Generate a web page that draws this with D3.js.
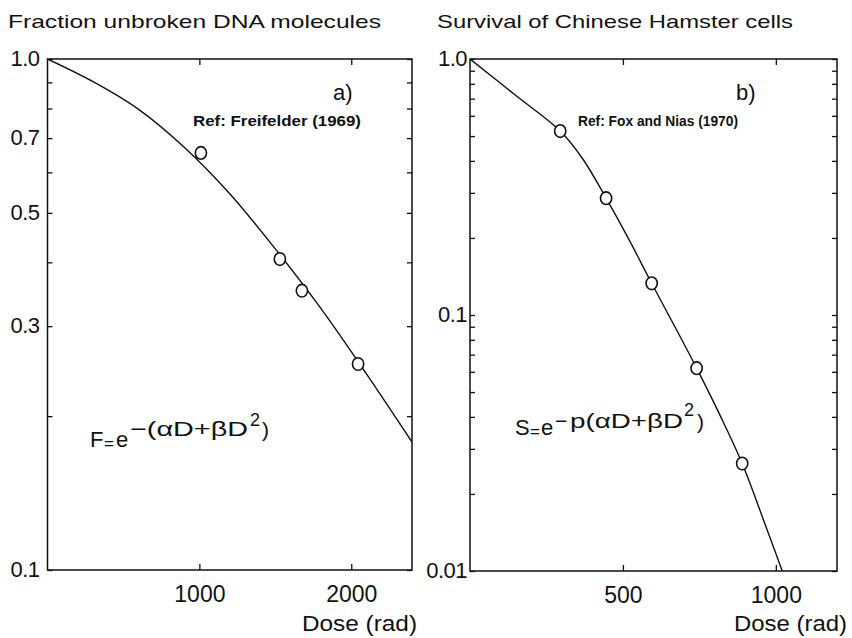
<!DOCTYPE html>
<html lang="en">
<head>
<meta charset="UTF-8">
<title>Fraction unbroken DNA / Survival of Chinese Hamster cells</title>
<script src="https://d3js.org/d3.v7.min.js"></script>
<style>
  body { margin: 0; background: #fff; }
  text { font-family: "Liberation Sans", Arial, sans-serif; fill: #111; }
</style>
</head>
<body>
<svg id="fig" width="852" height="638"></svg>
<script>
// panel a) - unbroken DNA, Freifelder (1969)
const doseA = [1010, 1530, 1675, 2045];
const fracA = [0.655, 0.406, 0.352, 0.253];
const curveDoseA = [0, 300, 600, 900, 1200, 1500, 1800, 2100, 2400];
const curveFracA = [1.0, 0.903, 0.797, 0.672, 0.545, 0.425, 0.325, 0.242, 0.178];
const yTicksA = [0.1, 0.2, 0.3, 0.4, 0.5, 0.6, 0.7, 0.8, 0.9, 1.0];
const yLabelsA = ["0.1", "0.3", "0.5", "0.7", "1.0"];
const xTicksA = [1000, 2000];

// panel b) - hamster cell survival, Fox and Nias (1970)
const doseB = [295, 445, 594, 741, 890];
const survB = [0.523, 0.286, 0.133, 0.062, 0.0263];
const curveDoseB = [0, 150, 295, 370, 445, 520, 594, 670, 741, 820, 890, 960, 1021];
const curveSurvB = [1.0, 0.72, 0.523, 0.405, 0.286, 0.197, 0.133, 0.090, 0.062, 0.040, 0.0263, 0.0158, 0.01];
const yTicksB = [0.01, 0.02, 0.03, 0.04, 0.05, 0.06, 0.07, 0.08, 0.09,
                 0.1, 0.2, 0.3, 0.4, 0.5, 0.6, 0.7, 0.8, 0.9, 1.0];
const yLabelsB = ["0.01", "0.1", "1.0"];
const xTicksB = [500, 1000];

const svg = d3.select("#fig");

function panel(p) {
  const x = d3.scaleLinear().domain(p.xDomain).range([p.left, p.right]);
  const y = d3.scaleLog().domain(p.yDomain).range([p.bottom, p.top]);
  const g = svg.append("g");

  g.append("clipPath").attr("id", p.id)
    .append("rect")
    .attr("x", p.left).attr("y", p.top)
    .attr("width", p.right - p.left).attr("height", p.bottom - p.top);

  // ticks all point inwards
  const lab = d => p.yLabels.find(s => +s === d) || "";
  g.append("g").attr("transform", `translate(${p.left},0)`)
    .call(d3.axisLeft(y).tickValues(p.yTicks).tickFormat(lab)
      .tickSize(-5).tickSizeOuter(0).tickPadding(p.yPad))
    .call(a => a.selectAll("text").attr("font-size", 22).attr("dy", "0.3em")
      .attr("letter-spacing", "-0.5"));
  g.append("g").attr("transform", `translate(${p.right},0)`)
    .call(d3.axisRight(y).tickValues(p.yTicks).tickFormat("").tickSize(-5).tickSizeOuter(0));
  g.append("g").attr("transform", `translate(0,${p.top})`)
    .call(d3.axisTop(x).tickValues(p.xTicks).tickFormat("").tickSize(-6).tickSizeOuter(0));
  g.append("g").attr("transform", `translate(0,${p.bottom})`)
    .call(d3.axisBottom(x).tickValues(p.xTicks).tickFormat(d3.format("d"))
      .tickSize(-6).tickSizeOuter(0))
    .call(a => a.selectAll("text").attr("font-size", 23).attr("dy", null).attr("y", 32));

  g.selectAll(".domain").remove();
  g.selectAll(".tick line").attr("stroke", "#111").attr("stroke-width", 1.3);
  g.selectAll(".tick text").attr("fill", "#111").style("font-family", null);

  g.append("rect")
    .attr("x", p.left).attr("y", p.top)
    .attr("width", p.right - p.left).attr("height", p.bottom - p.top)
    .attr("fill", "none").attr("stroke", "#111").attr("stroke-width", 1.5);

  const line = d3.line().x(d => x(d[0])).y(d => y(d[1])).curve(d3.curveCatmullRom);
  g.append("path")
    .datum(d3.zip(p.curveX, p.curveY))
    .attr("clip-path", `url(#${p.id})`)
    .attr("fill", "none").attr("stroke", "#111").attr("stroke-width", 1.4)
    .attr("d", line);

  g.selectAll("ellipse.pt").data(d3.zip(p.ptX, p.ptY)).join("ellipse")
    .attr("class", "pt")
    .attr("cx", d => x(d[0])).attr("cy", d => y(d[1]))
    .attr("rx", 5.6).attr("ry", 6.3)
    .attr("fill", "#fff").attr("stroke", "#111").attr("stroke-width", 1.6);

  return g;
}

panel({
  id: "clipA", left: 47.5, right: 412, top: 59, bottom: 570,
  xDomain: [0, 2400], yDomain: [0.1, 1.0], yPad: 8,
  yTicks: yTicksA, yLabels: yLabelsA, xTicks: xTicksA,
  curveX: curveDoseA, curveY: curveFracA, ptX: doseA, ptY: fracA
});
panel({
  id: "clipB", left: 470, right: 837, top: 59, bottom: 571,
  xDomain: [0, 1200], yDomain: [0.01, 1.0], yPad: 3,
  yTicks: yTicksB, yLabels: yLabelsB, xTicks: xTicksB,
  curveX: curveDoseB, curveY: curveSurvB, ptX: doseB, ptY: survB
});

// titles and annotations
function label(x, y, size, str, len, bold) {
  const t = svg.append("text").attr("x", x).attr("y", y).attr("font-size", size).text(str);
  if (len) t.attr("textLength", len).attr("lengthAdjust", "spacingAndGlyphs");
  if (bold) t.attr("font-weight", "bold");
  return t;
}
label(8, 28, 19, "Fraction  unbroken DNA molecules", 373);
label(437, 28, 19, "Survival of  Chinese Hamster cells", 356);
label(302, 631, 22, "Dose (rad)", 115);
label(734, 631, 22, "Dose (rad)", 113);
label(333, 100, 22, "a)");
label(736, 100, 22, "b)");
label(193, 126, 14, "Ref: Freifelder (1969)", 168, true);
label(578, 126, 14, "Ref:  Fox  and Nias (1970)", 160, true);

// F = e^-(aD+bD^2)
label(90, 447, 22, "F");
label(104, 449, 17, "=");
label(116, 447, 22, "e");
label(130, 436, 21, "\u2212(\u03b1D+\u03b2D", 118);
label(250, 426, 18, "2");
label(262, 437, 21, ")");

// S = e^-p(aD+bD^2)
label(515, 435, 22, "S");
label(530, 437, 17, "=");
label(541, 435, 22, "e");
label(555, 428, 21, "\u2212");
label(570, 428, 21, "p(\u03b1D+\u03b2D", 113);
label(684, 416, 18, "2");
label(697, 429, 21, ")");
</script>
</body>
</html>
